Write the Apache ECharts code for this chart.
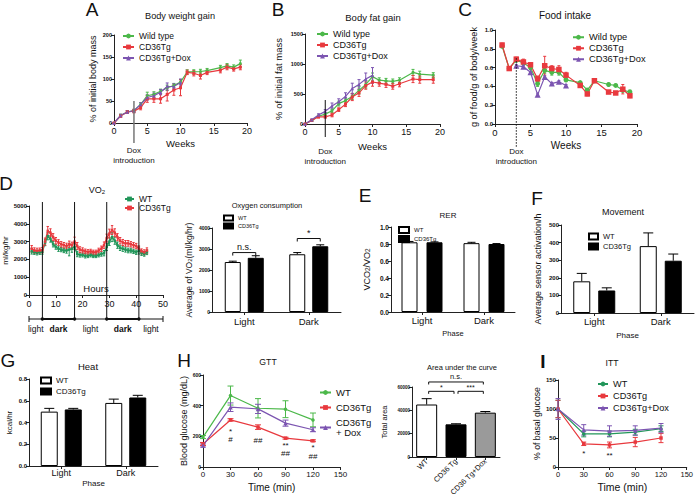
<!DOCTYPE html>
<html><head><meta charset="utf-8">
<script src="https://cdn.jsdelivr.net/npm/echarts@6/dist/echarts.min.js"></script>
<style>html,body{margin:0;padding:0;background:#fff}#c{width:696px;height:502px}</style>
</head><body><div id="c"></div>
<script>
// ---------------- DATA ----------------
// A: body weight gain (% of initial body mass)
const weeksA = [0,1,2,3,4,5,6,7,8,9,10,11,12,13,14,16,17,18,19];
const A_wt = [0,17,25,28,42,62,65,72,80,85,93,116,116,117,119,126,130,127,135];
const A_wt_err = [0,3,3,3,4,8,6,5,6,5,6,5,5,5,5,5,5,5,8];
const A_tg = [0,16,25,27,35,55,55,55,65,75,80,115,113,108,115,120,127,123,127];
const A_tg_err = [0,3,3,4,5,8,8,10,15,12,18,5,6,8,5,6,6,5,6];
const weeksAd = [0,1,2,3,4,5,6,7,8,9,10];
const A_dox = [0,17,25,28,42,58,62,70,83,83,92];
const A_dox_err = [0,3,3,3,4,6,6,6,8,6,8];
// B: body fat gain
const weeksB = [0,1,2,3,4,5,6,7,8,9,10,11,12,13,14,16,17,19];
const B_wt = [0,60,130,165,220,340,390,460,560,660,790,730,720,710,730,860,830,815];
const B_wt_err = [0,15,20,20,30,40,40,50,60,60,60,40,40,40,40,50,50,40];
const B_tg = [0,60,120,120,150,240,330,450,520,640,700,680,660,630,670,750,740,740];
const B_tg_err = [0,15,20,20,30,30,40,60,60,60,70,50,50,50,50,60,60,60];
const weeksBd = [0,1,2,3,4,5,6,7,8,9,10];
const B_dox = [0,70,150,210,300,370,460,590,660,750,810];
const B_dox_err = [0,15,20,30,50,50,60,90,80,100,130];
// C: food intake
const weeksC = [1,2,3,4,5,6,7,8,9,10,12,13,14,16,17,18,19];
const C_wt = [0.83,0.59,0.68,0.65,0.60,0.43,0.57,0.55,0.55,0.47,0.44,0.36,0.46,0.42,0.41,0.36,0.34];
const C_wt_err = [0.02,0.01,0.02,0.02,0.02,0.03,0.03,0.03,0.03,0.02,0.01,0.02,0.01,0.01,0.01,0.02,0.02];
const C_tg = [0.84,0.59,0.69,0.66,0.63,0.48,0.62,0.59,0.58,0.52,0.41,0.32,0.46,0.34,0.33,0.37,0.30];
const C_tg_err = [0.02,0.01,0.02,0.03,0.02,0.03,0.10,0.03,0.04,0.03,0.01,0.02,0.01,0.01,0.01,0.05,0.02];
const weeksCd = [3,4,5,6,7,8,9,10];
const C_dox = [0.62,0.61,0.55,0.31,0.50,0.43,0.45,0.41];
const C_dox_err = [0.01,0.01,0.01,0.01,0.01,0.01,0.01,0.01];
// Dox introduction (week)
const doxWeek = 3;
// D: VO2 time course
const hoursD = [1,2,3,4,5,6,7,8,9,10,11,12,13,14,15,16,17,18,19,20,21,22,23,24,25,26,27,28,29,30,31,32,33,34,35,36,37,38,39,40,41,42,43,44];
const D_wt = [2450,2400,2380,2400,2420,2950,3300,3150,2850,2700,2600,2550,2500,2500,2550,2600,2700,2300,2250,2250,2200,2200,2250,2200,2200,2250,2300,2350,2700,3000,3250,3050,2800,2650,2600,2550,2500,2500,2450,2400,2500,2350,2300,2400];
const D_wt_err = [150,120,130,120,130,180,200,180,150,130,150,120,120,150,350,200,150,150,120,110,120,100,110,100,100,110,120,150,200,220,250,200,180,150,150,140,130,130,120,120,200,130,120,130];
const D_tg = [2600,2500,2480,2500,2520,3000,3600,3500,3250,3050,2950,2850,2800,2750,2850,2800,3000,2750,2550,2500,2450,2420,2450,2400,2400,2500,2600,2800,3200,3450,3650,3500,3250,3050,2950,2900,2900,2850,2800,2750,2600,2450,2400,2500];
const D_tg_err = [180,150,150,140,150,200,250,220,200,180,160,150,150,160,180,170,250,200,160,150,130,130,120,120,120,130,150,180,220,250,250,220,200,180,170,160,160,150,150,150,160,140,140,150];
const phaseBounds = [0,5,17,29,41,50];
const phaseLabels = ['light','dark','light','dark','light'];
// D right: oxygen consumption
const phaseCats = ['Light','Dark'];
const oxy_wt = [2380,2750], oxy_wt_err = [40,80];
const oxy_tg = [2580,3130], oxy_tg_err = [100,70];
const oxySig = [[0,2830,'n.s.'],[1,3500,'*']];
// E: RER
const rer_wt = [0.82,0.81], rer_wt_err = [0.01,0.01];
const rer_tg = [0.82,0.80], rer_tg_err = [0.005,0.005];
// F: movement
const mov_wt = [180,380], mov_wt_err = [45,75];
const mov_tg = [128,297], mov_tg_err = [15,38];
// G: heat
const heat_wt = [0.50,0.58], heat_wt_err = [0.03,0.035];
const heat_tg = [0.52,0.63], heat_tg_err = [0.01,0.02];
// H: GTT
const gttTime = [0,30,60,90,120];
const gtt_wt = [195,466,383,377,307], gtt_wt_err = [10,62,63,55,45];
const gtt_tg = [150,307,260,188,171], gtt_tg_err = [10,8,15,6,6];
const gtt_dox = [140,390,379,286,243], gtt_dox_err = [10,28,30,20,13];
const gttMarks = [[30,232,'*'],[30,178,'#'],[60,172,'##'],[90,139,'**'],[90,85,'##'],[120,126,'*'],[120,69,'##']];
// H right: AUC
const aucCats = ['WT','CD36 Tg','CD36 Tg+Dox'];
const auc = [45000,28000,38000], auc_err = [5000,500,1000];
const aucSig = [[0,1,56300,'*'],[1,2,56300,'***'],[0,2,64300,'n.s.']];
// I: ITT
const ittTime = [0,30,60,90,120];
const itt_wt = [100,57,57,60,66], itt_wt_err = [15,5,5,5,5];
const itt_tg = [100,40,38,43,50], itt_tg_err = [15,3,5,8,8];
const itt_dox = [100,64,62,63,67], itt_dox_err = [18,9,9,8,8];
const ittMarks = [[30,23,'*'],[60,20,'**']];

// ---------------- STYLE / BUILD ----------------
const FONT = '"Liberation Sans", Arial, sans-serif';
const GREEN='#4cb84a', RED='#e8393e', PURPLE='#7c55b1', DGREEN='#22965a', AX='#222', TXT='#111';
const aucFill = ['#ffffff','#000000','#9a9a9a'];
const plain = v => String(v);

function merge(a,b){ if(!b) return a; for(const k in b){ const v=b[k];
  if(v && typeof v==='object' && !Array.isArray(v) && a[k] && typeof a[k]==='object' && !Array.isArray(a[k])) merge(a[k],v); else a[k]=v; } return a; }

const grids=[], xAxes=[], yAxes=[], series=[], legends=[], graphics=[];
function addGrid(l,t,w,h){ grids.push({left:l,top:t,width:w,height:h}); return grids.length-1; }
function mkAxis(gi,o){ return merge({gridIndex:gi,
  axisLine:{show:true,onZero:false,lineStyle:{color:AX,width:1}},
  axisTick:{show:true,length:3,lineStyle:{color:AX,width:1}},
  axisLabel:{fontFamily:FONT,color:TXT,fontSize:6,fontWeight:'bold',margin:2,formatter:plain},
  splitLine:{show:false}, nameLocation:'middle',
  nameTextStyle:{fontFamily:FONT,color:TXT,fontSize:9}}, o); }
function txtStyle(text,size,o,bold){ return merge({text,fill:TXT,font:(bold?'bold ':'')+size+'px '+FONT,align:'center',verticalAlign:'middle',textAlign:'center',textVerticalAlign:'middle'},o); }
function txt(x,y,text,size,o,bold){ return {type:'text',x,y,silent:true,style:txtStyle(text,size,o,bold)}; }

function lineSer(name,gi,xs,ys,color,symbol,size,lw){
  return {type:'line',name,xAxisIndex:gi,yAxisIndex:gi,data:xs.map((x,i)=>[x,ys[i]]),symbol,symbolSize:size,
    showSymbol:true,itemStyle:{color},lineStyle:{color,width:lw||1.2},z:4,silent:true};
}
function errSer(gi,xs,ys,es,color,cap,lw){
  return {type:'custom',xAxisIndex:gi,yAxisIndex:gi,data:xs.map((x,i)=>[x,ys[i],es[i]]),z:3,silent:true,
    renderItem:(p,api)=>{ const x=api.value(0),y=api.value(1),e=api.value(2);
      const a=api.coord([x,y-e]), b=api.coord([x,y+e]); const st={stroke:color,lineWidth:lw||1};
      return {type:'group',children:[
        {type:'line',shape:{x1:a[0],y1:a[1],x2:b[0],y2:b[1]},style:st},
        {type:'line',shape:{x1:a[0]-cap,y1:a[1],x2:a[0]+cap,y2:a[1]},style:st},
        {type:'line',shape:{x1:b[0]-cap,y1:b[1],x2:b[0]+cap,y2:b[1]},style:st}]}; }};
}
function barErr(gi,vals,errs,off,cap){
  return {type:'custom',xAxisIndex:gi,yAxisIndex:gi,data:vals.map((v,i)=>[i,v,errs[i]]),z:5,silent:true,
    renderItem:(p,api)=>{ const i=api.value(0),v=api.value(1),e=api.value(2);
      const a=api.coord([i,v]), b=api.coord([i,v+e]); const x=a[0]+off; const st={stroke:'#000',lineWidth:1};
      return {type:'group',children:[
        {type:'line',shape:{x1:x,y1:a[1],x2:x,y2:b[1]},style:st},
        {type:'line',shape:{x1:x-cap,y1:b[1],x2:x+cap,y2:b[1]},style:st}]}; }};
}
function barPair(gi,wt,wtE,tg,tgE,bw,gap,tag,cap){
  const off=(bw+gap)/2, gp=(gap/bw*100)+'%';
  series.push({type:'bar',name:'WT|'+tag,xAxisIndex:gi,yAxisIndex:gi,data:wt,barWidth:bw,barGap:gp,z:2,silent:true,
    itemStyle:{color:'#fff',borderColor:'#000',borderWidth:1}});
  series.push({type:'bar',name:'CD36Tg|'+tag,xAxisIndex:gi,yAxisIndex:gi,data:tg,barWidth:bw,barGap:gp,z:2,silent:true,
    itemStyle:{color:'#000',borderColor:'#000',borderWidth:1}});
  series.push(barErr(gi,wt,wtE,-off,cap));
  series.push(barErr(gi,tg,tgE,off,cap));
  return off;
}
function doxSer(gi,topVal,ext,dash,color,lw){
  return {type:'custom',xAxisIndex:gi,yAxisIndex:gi,data:[[doxWeek,topVal]],z:6,silent:true,
    renderItem:(p,api)=>{ const a=api.coord([api.value(0),api.value(1)]), b=api.coord([api.value(0),0]);
      return {type:'group',children:[
        {type:'line',shape:{x1:a[0],y1:a[1],x2:a[0],y2:b[1]+ext},style:{stroke:color,lineWidth:lw,lineDash:dash}},
        {type:'text',x:b[0],y:b[1]+27,style:txtStyle('Dox',8)},
        {type:'text',x:b[0],y:b[1]+37,style:txtStyle('introduction',8)}]}; }};
}
function marksSer(gi,marks,size){
  return {type:'custom',xAxisIndex:gi,yAxisIndex:gi,data:marks.map(m=>[m[0],m[1]]),z:6,silent:true,
    renderItem:(p,api)=>{ const a=api.coord([api.value(0),api.value(1)]);
      return {type:'text',x:a[0],y:a[1],style:txtStyle(marks[p.dataIndex][2],size)}; }};
}
function legend(names,left,top,o){
  return merge({data:names,left,top,orient:'vertical',itemGap:1,itemWidth:11,itemHeight:6,selectedMode:false,padding:0,
    formatter:n=>n.split('|')[0],
    textStyle:{fontFamily:FONT,fontSize:8.5,color:TXT,lineHeight:10}},o);
}

// ---- Panel A ----
const gA=addGrid(114,35,133,88);
xAxes.push(mkAxis(gA,{type:'value',min:0,max:20,interval:5,name:'Weeks',nameGap:15,nameTextStyle:{fontSize:9.5},axisLabel:{fontSize:9,fontWeight:'normal',margin:3}}));
yAxes.push(mkAxis(gA,{type:'value',min:0,max:200,interval:50,name:'% of initial body mass',nameGap:17,axisLabel:{fontSize:5.5}}));
series.push(errSer(gA,weeksA,A_wt,A_wt_err,GREEN,1.5), errSer(gA,weeksA,A_tg,A_tg_err,RED,1.5), errSer(gA,weeksAd,A_dox,A_dox_err,PURPLE,1.5));
series.push(lineSer('Wild type|A',gA,weeksA,A_wt,GREEN,'circle',3), lineSer('CD36Tg|A',gA,weeksA,A_tg,RED,'rect',3), lineSer('CD36Tg+Dox|A',gA,weeksAd,A_dox,PURPLE,'triangle',3.5));
series.push(doxSer(gA,50,20,null,'#777',1.5));
legends.push(legend(['Wild type|A','CD36Tg|A','CD36Tg+Dox|A'],122,31));

// ---- Panel B ----
const gB=addGrid(305,34,135,90);
xAxes.push(mkAxis(gB,{type:'value',min:0,max:20,interval:5,name:'Weeks',nameGap:17,nameTextStyle:{fontSize:9.5},axisLabel:{fontSize:9,fontWeight:'normal',margin:3}}));
yAxes.push(mkAxis(gB,{type:'value',min:0,max:1500,interval:500,name:'% of initial fat mass',nameGap:22,nameTextStyle:{fontSize:9.5},axisLabel:{fontSize:5.5}}));
series.push(errSer(gB,weeksB,B_wt,B_wt_err,GREEN,1.5), errSer(gB,weeksB,B_tg,B_tg_err,RED,1.5), errSer(gB,weeksBd,B_dox,B_dox_err,PURPLE,1.5));
series.push(lineSer('Wild type|B',gB,weeksB,B_wt,GREEN,'circle',3), lineSer('CD36Tg|B',gB,weeksB,B_tg,RED,'rect',3), lineSer('CD36Tg+Dox|B',gB,weeksBd,B_dox,PURPLE,'triangle',3.5));
series.push(doxSer(gB,400,13,null,'#111',1));
legends.push(legend(['Wild type|B','CD36Tg|B','CD36Tg+Dox|B'],316,29,{textStyle:{fontSize:9}}));

// ---- Panel C ----
const gC=addGrid(495,30,142,94);
xAxes.push(mkAxis(gC,{type:'value',min:0,max:20,interval:5,name:'Weeks',nameGap:16,nameTextStyle:{fontSize:10},axisLabel:{fontSize:9.5,fontWeight:'normal',margin:3}}));
yAxes.push(mkAxis(gC,{type:'value',min:0,max:1,interval:0.2,name:'g of food/g of body/week',nameGap:17,nameTextStyle:{fontSize:9.2},axisLabel:{fontSize:6,formatter:v=>v.toFixed(1)}}));
series.push(errSer(gC,weeksC,C_wt,C_wt_err,GREEN,1.5), errSer(gC,weeksC,C_tg,C_tg_err,RED,1.5), errSer(gC,weeksCd,C_dox,C_dox_err,PURPLE,1.5));
series.push(lineSer('Wild type|C',gC,weeksC,C_wt,GREEN,'circle',5), lineSer('CD36Tg|C',gC,weeksC,C_tg,RED,'rect',5.5), lineSer('CD36Tg+Dox|C',gC,weeksCd,C_dox,PURPLE,'triangle',6));
series.push(doxSer(gC,0.70,23,[1.5,1.5],'#111',1));
legends.push(legend(['Wild type|C','CD36Tg|C','CD36Tg+Dox|C'],572,32,{textStyle:{fontSize:9.3,lineHeight:10.5},itemGap:0.5}));

// ---- Panel D left ----
const gD=addGrid(29,206,134,89);
xAxes.push(mkAxis(gD,{type:'value',min:0,max:50,interval:10,name:'Hours',nameGap:-12,nameTextStyle:{fontSize:9.5},axisLabel:{fontSize:9,fontWeight:'normal',margin:4}}));
yAxes.push(mkAxis(gD,{type:'value',min:0,max:5000,interval:1000,name:'ml/kg/hr',nameGap:19,nameTextStyle:{fontSize:8},axisLabel:{fontSize:6}}));
series.push(errSer(gD,hoursD,D_wt,D_wt_err,DGREEN,1.2), errSer(gD,hoursD,D_tg,D_tg_err,RED,1.2));
series.push(lineSer('WT|D',gD,hoursD,D_wt,DGREEN,'rect',2.5,1.4), lineSer('CD36Tg|D',gD,hoursD,D_tg,RED,'rect',2.5,1.4));
series.push({type:'custom',xAxisIndex:gD,yAxisIndex:gD,data:phaseBounds.slice(1,-1).map(b=>[b,5000]),z:6,silent:true,
  renderItem:(p,api)=>{ const a=api.coord([api.value(0),api.value(1)]), b=api.coord([api.value(0),0]);
    return {type:'group',children:[
      {type:'line',shape:{x1:a[0],y1:a[1]-4,x2:a[0],y2:b[1]+24},style:{stroke:'#111',lineWidth:1}},
      {type:'circle',shape:{cx:a[0],cy:b[1]+24,r:1.7},style:{fill:'#111'}}]}; }});
series.push({type:'custom',xAxisIndex:gD,yAxisIndex:gD,data:phaseLabels.map((l,i)=>[phaseBounds[i],phaseBounds[i+1]]),z:6,silent:true,
  renderItem:(p,api)=>{ const s=api.coord([api.value(0),0]), e=api.coord([api.value(1),0]); const y=s[1]+24;
    const lab=phaseLabels[p.dataIndex], dark=lab==='dark'; const ch=[
      {type:'line',shape:{x1:s[0],y1:y,x2:e[0],y2:y},style:{stroke:'#111',lineWidth:dark?2:1}},
      {type:'text',x:(s[0]+e[0])/2,y:y+10,style:txtStyle(lab,8.5,null,dark)}];
    if(p.dataIndex===0) ch.push({type:'line',shape:{x1:s[0],y1:y-3,x2:s[0],y2:y+3},style:{stroke:'#111',lineWidth:1}});
    if(p.dataIndex===phaseLabels.length-1) ch.push({type:'line',shape:{x1:e[0],y1:y-3,x2:e[0],y2:y+3},style:{stroke:'#111',lineWidth:1}});
    return {type:'group',children:ch}; }});
legends.push(legend(['WT|D','CD36Tg|D'],124,194.5,{itemWidth:9,textStyle:{fontSize:8.5,lineHeight:9},itemGap:0}));

// ---- Panel D right (oxygen consumption) ----
const gO=addGrid(212,228,129,84);
xAxes.push(mkAxis(gO,{type:'category',data:phaseCats,axisTick:{alignWithLabel:true},axisLabel:{fontSize:9.5,fontWeight:'normal',margin:4}}));
yAxes.push(mkAxis(gO,{type:'value',min:0,max:4000,interval:1000,name:'Average of VO{s|2}(ml/kg/hr)',nameGap:19,
  nameTextStyle:{fontSize:8.5,rich:{s:{fontSize:6,verticalAlign:'bottom',fontFamily:FONT,color:TXT}}},axisLabel:{fontSize:5}}));
const offO=barPair(gO,oxy_wt,oxy_wt_err,oxy_tg,oxy_tg_err,16,7,'O',4);
series.push({type:'custom',xAxisIndex:gO,yAxisIndex:gO,data:oxySig.map(s=>[s[0],s[1]]),z:6,silent:true,
  renderItem:(p,api)=>{ const c=api.coord([api.value(0),api.value(1)]); const x1=c[0]-offO,x2=c[0]+offO,y=c[1];
    return {type:'group',children:[
      {type:'polyline',shape:{points:[[x1,y+3],[x1,y],[x2,y],[x2,y+3]]},style:{stroke:'#111',lineWidth:1,fill:null}},
      {type:'text',x:(x1+x2)/2,y:y-6,style:txtStyle(oxySig[p.dataIndex][2],9)}]}; }});
legends.push(legend(['WT|O','CD36Tg|O'],223,214,{icon:'rect',itemWidth:9,itemHeight:5,itemGap:0,textStyle:{fontSize:5.5,lineHeight:8}}));

// ---- Panel E (RER) ----
const gE=addGrid(391,227,124,85);
xAxes.push(mkAxis(gE,{type:'category',data:phaseCats,name:'Phase',nameGap:17,nameTextStyle:{fontSize:7.5},axisTick:{alignWithLabel:true},axisLabel:{fontSize:9.5,fontWeight:'normal',margin:3}}));
yAxes.push(mkAxis(gE,{type:'value',min:0,max:1,interval:0.2,name:'VCO{s|2}/VO{s|2}',nameGap:20,
  nameTextStyle:{fontSize:9,rich:{s:{fontSize:6.5,verticalAlign:'bottom',fontFamily:FONT,color:TXT}}},axisLabel:{fontSize:6.5,formatter:v=>v.toFixed(1)}}));
barPair(gE,rer_wt,rer_wt_err,rer_tg,rer_tg_err,16,9,'E',4);
legends.push(legend(['WT|E','CD36Tg|E'],398,226,{icon:'rect',itemWidth:10,itemHeight:6,itemGap:1,textStyle:{fontSize:6,lineHeight:8}}));

// ---- Panel F (movement) ----
const gF=addGrid(561,225,133,88);
xAxes.push(mkAxis(gF,{type:'category',data:phaseCats,name:'Phase',nameGap:18,nameTextStyle:{fontSize:8},axisTick:{alignWithLabel:true},axisLabel:{fontSize:9.5,fontWeight:'normal',margin:3}}));
yAxes.push(mkAxis(gF,{type:'value',min:0,max:500,interval:100,name:'Average sensor activation/h',nameGap:19,nameTextStyle:{fontSize:9},axisLabel:{fontSize:6}}));
barPair(gF,mov_wt,mov_wt_err,mov_tg,mov_tg_err,17,8,'F',5);
legends.push(legend(['WT|F','CD36Tg|F'],588,232,{icon:'rect',itemWidth:9,itemHeight:6,itemGap:1,textStyle:{fontSize:7.5,lineHeight:9}}));

// ---- Panel G (heat) ----
const gG=addGrid(29,379,129,87);
xAxes.push(mkAxis(gG,{type:'category',data:phaseCats,name:'Phase',nameGap:13,nameTextStyle:{fontSize:8},axisTick:{alignWithLabel:true},axisLabel:{fontSize:9,fontWeight:'normal',margin:2}}));
yAxes.push(mkAxis(gG,{type:'value',min:0,max:0.8,interval:0.2,name:'kcal/hr',nameGap:16,nameTextStyle:{fontSize:8},axisLabel:{fontSize:6,formatter:v=>v.toFixed(1)}}));
barPair(gG,heat_wt,heat_wt_err,heat_tg,heat_tg_err,17,7,'G',5);
legends.push(legend(['WT|G','CD36Tg|G'],40,375.5,{icon:'rect',itemWidth:10,itemHeight:6,itemGap:1,textStyle:{fontSize:8,lineHeight:10}}));

// ---- Panel H (GTT) ----
const gH=addGrid(203,375,137.5,92);
xAxes.push(mkAxis(gH,{type:'value',min:0,max:150,interval:30,name:'Time (min)',nameGap:15,nameTextStyle:{fontSize:10},axisLabel:{fontSize:8,fontWeight:'normal',margin:3}}));
yAxes.push(mkAxis(gH,{type:'value',min:0,max:600,interval:200,name:'Blood glucose (mg/dL)',nameGap:8,nameTextStyle:{fontSize:9},axisLabel:{fontSize:5}}));
series.push(errSer(gH,gttTime,gtt_wt,gtt_wt_err,GREEN,3), errSer(gH,gttTime,gtt_tg,gtt_tg_err,RED,3), errSer(gH,gttTime,gtt_dox,gtt_dox_err,PURPLE,3));
series.push(lineSer('WT|H',gH,gttTime,gtt_wt,GREEN,'circle',3.5), lineSer('CD36Tg|H',gH,gttTime,gtt_tg,RED,'rect',3.5), lineSer('CD36Tg\n+ Dox|H',gH,gttTime,gtt_dox,PURPLE,'triangle',4.5));
series.push(marksSer(gH,gttMarks,8));
legends.push(legend(['WT|H','CD36Tg|H','CD36Tg\n+ Dox|H'],319,387.5,{itemGap:5,textStyle:{fontSize:9.5,lineHeight:10}}));

// ---- Panel H right (AUC) ----
const gU=addGrid(412,387,88,70);
xAxes.push(mkAxis(gU,{type:'category',data:aucCats,axisTick:{alignWithLabel:true},axisLabel:{fontSize:7.5,fontWeight:'normal',rotate:45,margin:3}}));
yAxes.push(mkAxis(gU,{type:'value',min:0,max:60000,interval:20000,name:'Total area',nameGap:24,nameTextStyle:{fontSize:7.5},axisLabel:{fontSize:4.5}}));
series.push({type:'bar',name:'AUC',xAxisIndex:gU,yAxisIndex:gU,barWidth:21,z:2,silent:true,
  data:auc.map((v,i)=>({value:v,itemStyle:{color:aucFill[i]}})),itemStyle:{borderColor:'#000',borderWidth:1}});
series.push(barErr(gU,auc,auc_err,0,5));
series.push({type:'custom',xAxisIndex:gU,yAxisIndex:gU,data:aucSig.map(s=>[s[0],s[2]]),z:6,silent:true,
  renderItem:(p,api)=>{ const s=aucSig[p.dataIndex]; const a=api.coord([s[0],s[2]]), b=api.coord([s[1],s[2]]);
    const x1=a[0]+2,x2=b[0]-2,y=a[1];
    return {type:'group',children:[
      {type:'polyline',shape:{points:[[x1,y+2.5],[x1,y],[x2,y],[x2,y+2.5]]},style:{stroke:'#111',lineWidth:1,fill:null}},
      {type:'text',x:(x1+x2)/2,y:y-(s[3]==='n.s.'?5:4),style:txtStyle(s[3],s[3]==='n.s.'?7.5:7)}]}; }});

// ---- Panel I (ITT) ----
const gI=addGrid(558,380,131,87);
xAxes.push(mkAxis(gI,{type:'value',min:0,max:150,interval:30,name:'Time (min)',nameGap:14,nameTextStyle:{fontSize:10.5},axisLabel:{fontSize:7.5,fontWeight:'normal',margin:3}}));
yAxes.push(mkAxis(gI,{type:'value',min:0,max:150,interval:50,name:'% of basal glucose',nameGap:17,nameTextStyle:{fontSize:8.7},axisLabel:{fontSize:6}}));
series.push(errSer(gI,ittTime,itt_wt,itt_wt_err,DGREEN,2.5), errSer(gI,ittTime,itt_tg,itt_tg_err,RED,2.5), errSer(gI,ittTime,itt_dox,itt_dox_err,PURPLE,2.5));
series.push(lineSer('WT|I',gI,ittTime,itt_wt,DGREEN,'circle',3.5), lineSer('CD36Tg|I',gI,ittTime,itt_tg,RED,'rect',3.5), lineSer('CD36Tg+Dox|I',gI,ittTime,itt_dox,PURPLE,'triangle',4.5));
series.push(marksSer(gI,ittMarks,8));
legends.push(legend(['WT|I','CD36Tg|I','CD36Tg+Dox|I'],597,379,{itemWidth:10,itemGap:2,textStyle:{fontSize:9.2,lineHeight:10}}));

// ---- panel letters & titles ----
[['A',92,9],['B',278,9],['C',465,9],['D',6,183],['E',365,195],['F',537,198],['G',8,360],['H',184,360]]
  .forEach(l=>graphics.push(txt(l[1],l[2],l[0],19)));
graphics.push(txt(543,361,'I',19,null,true));
[['Body weight gain',180,16,9.2],['Body fat gain',373,17,9.5],['Food intake',565,15,10],['Oxygen consumption',267,205,7.5],
 ['RER',448,215,8],['Movement',623,212,9],['Heat',88,366,9.5],['GTT',268,362,8.7],['Area under the curve',462,367,7.5],['ITT',612,363,8.7]]
  .forEach(t=>graphics.push(txt(t[1],t[2],t[0],t[3])));
graphics.push({type:'text',x:97,y:190,silent:true,style:txtStyle('VO{s|2}',9,{rich:{s:{fontSize:6,verticalAlign:'bottom',fontFamily:FONT,fill:TXT}}})});

const chart = echarts.init(document.getElementById('c'), null, {renderer:'svg',width:696,height:502});
chart.setOption({animation:false,backgroundColor:'#fff',textStyle:{fontFamily:FONT},
  grid:grids,xAxis:xAxes,yAxis:yAxes,series,legend:legends,graphic:{elements:graphics}});
</script></body></html>
